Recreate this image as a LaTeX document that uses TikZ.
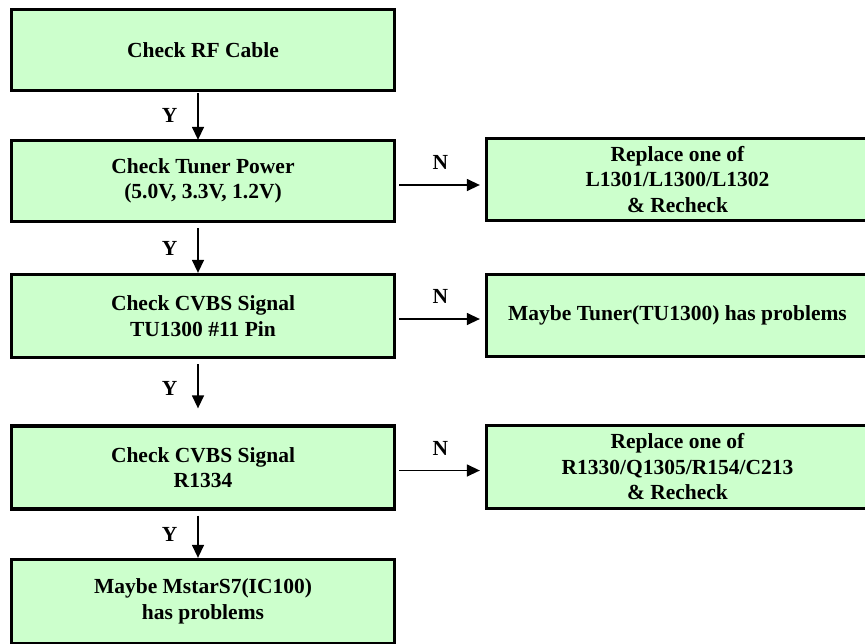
\documentclass[tikz,border=0pt]{standalone}
\usepackage{fontspec}
\setmainfont{Liberation Serif}
\usepackage{xcolor}
\usepackage{tikz}
\usetikzlibrary{arrows.meta}
\definecolor{BoxGreen}{RGB}{204,255,204}

\begin{document}
\begin{tikzpicture}[x=1pt,y=-1pt,>={Triangle[length=13pt,width=12pt]},
  stepbox/.style={draw,line width=3.3pt,fill=BoxGreen,minimum width=383pt,minimum height=81pt,
    inner sep=0pt,align=center,font=\bfseries\fontsize{21.5}{25.5}\selectfont},
  flow/.style={->,line width=1.4pt},
  tag/.style={font=\bfseries\fontsize{21.5}{25.5}\selectfont,inner sep=0pt}]
  \useasboundingbox (0,0) rectangle (865,643);
  \clip (0,0) rectangle (865,643);
  % left column
  \node[stepbox] (rf) at (203,50) {Check RF Cable};
  \node[stepbox] (power) at (203,181) {Check Tuner Power\\(5.0V, 3.3V, 1.2V)};
  \node[stepbox,minimum height=83pt] (cvbstu) at (203,316) {Check CVBS Signal\\TU1300 \#11 Pin};
  \node[stepbox,minimum height=83pt] (cvbsr) at (203,467.5) {Check CVBS Signal\\R1334};
  \node[stepbox,minimum height=84pt] (mstar) at (203,601.5) {Maybe MstarS7(IC100)\\has problems};
  % right column
  \node[stepbox,minimum width=382pt,minimum height=82pt] (coils) at (677.5,179.5) {Replace one of\\L1301/L1300/L1302\\\& Recheck};
  \node[stepbox,minimum width=382pt,minimum height=82pt] (tuner) at (677.5,315.5) {Maybe Tuner(TU1300) has problems};
  \node[stepbox,minimum width=382pt,minimum height=83pt] (parts) at (677.5,467) {Replace one of\\R1330/Q1305/R154/C213\\\& Recheck};
  % Y arrows
  \draw[flow,shorten <=1pt,shorten >=-1pt] ([xshift=-5pt]rf.south) -- ([xshift=-5pt]power.north)
    node[tag,midway,left=20pt] {Y};
  \draw[flow,shorten <=5pt] ([xshift=-5pt]power.south) -- ([xshift=-5pt]cvbstu.north)
    node[tag,midway,left=20pt] {Y};
  \draw[flow,shorten <=5pt,shorten >=16pt] ([xshift=-5pt]cvbstu.south) -- ([xshift=-5pt]cvbsr.north)
    node[tag,pos=0.45,left=20pt] {Y};
  \draw[flow,shorten <=5pt] ([xshift=-5pt]cvbsr.south) -- ([xshift=-5pt]mstar.north)
    node[tag,midway,left=20pt] {Y};
  % N arrows
  \draw[flow,shorten <=3pt,shorten >=5pt] ([yshift=-4pt]power.east) -- ([yshift=-4pt]power.east -| coils.west)
    node[tag,midway,above=15pt] {N};
  \draw[flow,shorten <=3pt,shorten >=5pt] ([yshift=-3pt]cvbstu.east) -- ([yshift=-3pt]cvbstu.east -| tuner.west)
    node[tag,midway,above=15pt] {N};
  \draw[flow,shorten <=3pt,shorten >=5pt] ([yshift=-3pt]cvbsr.east) -- ([yshift=-3pt]cvbsr.east -| parts.west)
    node[tag,midway,above=14pt] {N};
\end{tikzpicture}
\end{document}
